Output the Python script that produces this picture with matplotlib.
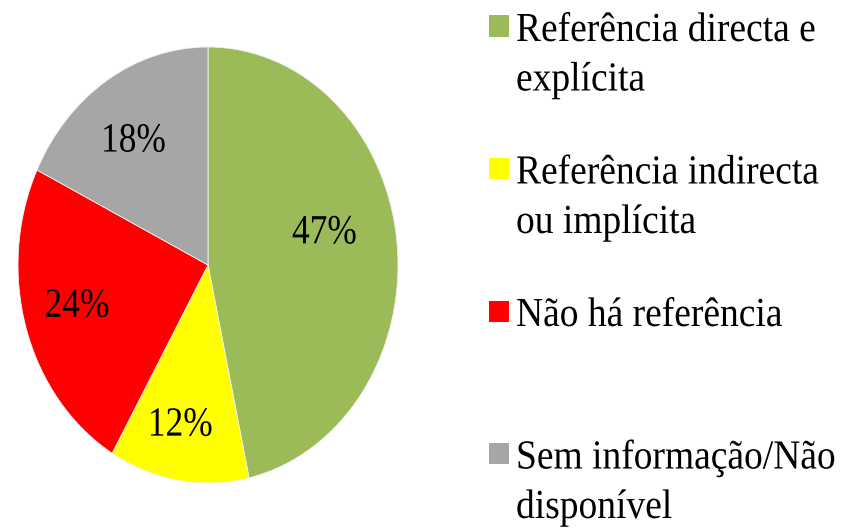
import matplotlib
matplotlib.use("Agg")
import numpy as np
import matplotlib.pyplot as plt
from matplotlib.patches import Rectangle
from matplotlib.transforms import Affine2D
import matplotlib.patheffects as pe

categories = ["Referência directa e\nexplícita",
              "Referência indirecta\nou implícita",
              "Não há referência",
              "Sem informação/Não\ndisponível"]
values = [47, 12, 24, 18]
colors = ["#9BBB59", "#FFFF00", "#FF0000", "#A6A6A6"]
# label placement (Excel "best fit"-like): radius and angular nudge
label_radii = [0.63, 0.75, 0.715, 0.69]
label_shift_deg = [7.2, -2.3, -1.5, 2.6]

W, H = 845, 528
FONT = "Liberation Serif"


class Reshape(pe.AbstractPathEffect):
    """Stretch text glyphs (the reference uses a tall, narrow serif)."""
    def __init__(self, sx=1.0, sy=1.0, anchor="left"):
        super().__init__()
        self.sx = sx
        self.sy = sy
        self.anchor = anchor

    def draw_path(self, renderer, gc, tpath, affine, rgbFace=None):
        if self.anchor == "center":
            ext = tpath.get_extents()
            cx = (ext.x0 + ext.x1) / 2
            cy = (ext.y0 + ext.y1) / 2
        else:
            cx, cy = 0.0, 0.0
        t = (Affine2D().translate(-cx, -cy).scale(self.sx, self.sy)
             .translate(cx, cy) + affine)
        renderer.draw_path(gc, tpath, t, rgbFace)


fig = plt.figure(figsize=(W / 100, H / 100), dpi=100)
fig.patch.set_facecolor("white")

ax = fig.add_axes([18 / W, (H - 483) / H, 380 / W, 436 / H])
wedges, texts, autotexts = ax.pie(
    values, colors=colors, startangle=90, counterclock=False,
    autopct=lambda p: f"{p:.0f}%", pctdistance=1.0,
    wedgeprops=dict(edgecolor="#F2F2F2", linewidth=0.6),
    textprops=dict(fontfamily=FONT, fontsize=26, color="black"))
ax.set_aspect("auto")
ax.set_xlim(-1, 1)
ax.set_ylim(-1, 1)
for w, t, v, r, s in zip(wedges, autotexts, values, label_radii, label_shift_deg):
    t.set_text(f"{v}%")
    mid = np.deg2rad((w.theta1 + w.theta2) / 2 + s)
    t.set_position((r * np.cos(mid), r * np.sin(mid)))
    t.set_path_effects([Reshape(0.98, 1.15, "center")])

# legend (manual, Excel-like: equal slots, text top aligned)
slot = 142.5
y0_marker = 26
y0_base = 41
line_pitch = 49.5
for i, (lab, c) in enumerate(zip(categories, colors)):
    yc = y0_marker + i * slot
    fig.patches.append(Rectangle((489 / W, (H - yc - 10.5) / H), 20 / W, 21 / H,
                                 transform=fig.transFigure, facecolor=c,
                                 edgecolor="none"))
    for j, line in enumerate(lab.split("\n")):
        yb = y0_base + i * slot + j * line_pitch
        fig.text(516 / W, (H - yb) / H, line, ha="left", va="baseline",
                 fontfamily=FONT, fontsize=27, color="black",
                 path_effects=[Reshape(1.0, 1.1, "left")])

fig.savefig("out.png", dpi=100, facecolor="white")
